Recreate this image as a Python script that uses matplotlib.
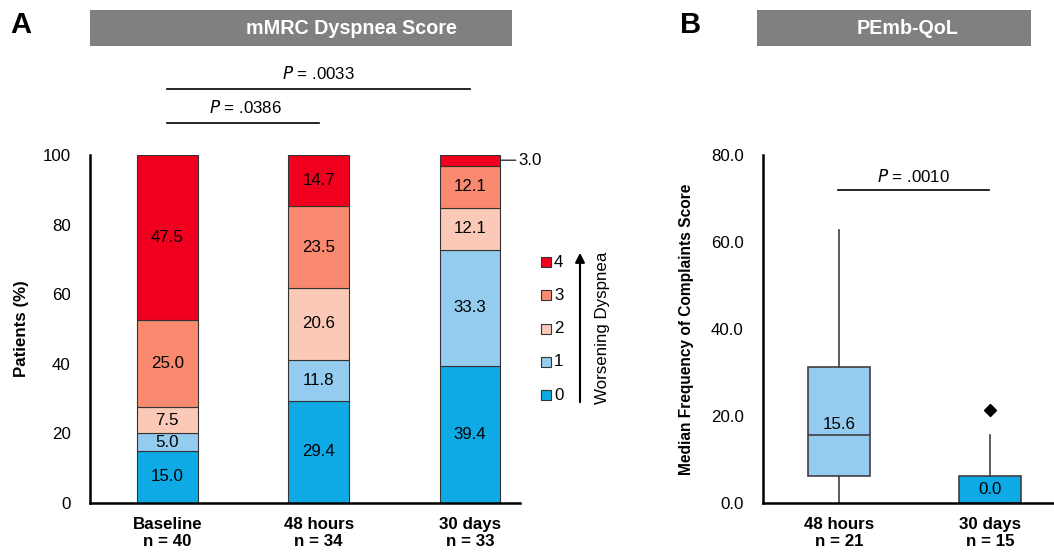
import numpy as np
import matplotlib
matplotlib.use('Agg')
import matplotlib.pyplot as plt
from matplotlib.patches import Rectangle

plt.rcParams['font.family'] = ['Liberation Sans', 'DejaVu Sans']

# Datos panel A
grupos = ['Baseline\nn = 40', '48 hours\nn = 34', '30 days\nn = 33']
niveles = ['0', '1', '2', '3', '4']
colores = ['#0eaae6', '#94ccf0', '#fbc9b7', '#f98a70', '#f0001e']
score_0 = [15.0, 29.4, 39.4]
score_1 = [5.0, 11.8, 33.3]
score_2 = [7.5, 20.6, 12.1]
score_3 = [25.0, 23.5, 12.1]
score_4 = [47.5, 14.7, 3.0]

# Datos panel B
grupos_b = ['48 hours\nn = 21', '30 days\nn = 15']
medianas = [15.6, 0.0]
q1 = [6.2, 0.0]
q3 = [31.3, 6.2]
bigote_inf = [0.0, 0.0]
bigote_sup = [62.8, 15.6]
atipicos = [[], [21.4]]
colores_b = ['#94ccf0', '#0eaae6']

W, H = 1054, 554
FS = 12.2
fig = plt.figure(figsize=(W / 100, H / 100), dpi=100)


def caja(x0, y0, x1, y1):
    # convierte pixeles (desde arriba) a fraccion de figura
    return [x0 / W, 1 - y1 / H, (x1 - x0) / W, (y1 - y0) / H]


# Panel A
ax = fig.add_axes(caja(90, 155, 520, 503))
series = [score_0, score_1, score_2, score_3, score_4]
x = np.arange(len(grupos))
base = np.zeros(len(grupos))
for i, vals in enumerate(series):
    vals = np.array(vals)
    ax.bar(x, vals, 0.40, bottom=base, color=colores[i],
           edgecolor='#333333', linewidth=0.8, label=niveles[i], zorder=2)
    for j, v in enumerate(vals):
        if v >= 5:
            ax.text(x[j], base[j] + v / 2, f'{v:.1f}', ha='center',
                    va='center', fontsize=FS, color='black')
    base += vals

# etiqueta 3.0 fuera de la barra
ax.annotate('3.0', xy=(2 + 0.20, 100 - score_4[2] / 2),
            xytext=(2.32, 100 - score_4[2] / 2), ha='left', va='center',
            fontsize=FS, annotation_clip=False,
            arrowprops=dict(arrowstyle='-', color='#333333', lw=1,
                            shrinkA=0, shrinkB=0))

ax.set_xlim(-0.51, 2.33)
ax.set_ylim(0, 100)
ax.set_yticks(np.arange(0, 101, 20))
ax.set_xticks(x)
ax.set_xticklabels(grupos, fontweight='bold', fontsize=FS)
ax.tick_params(axis='both', length=0, labelsize=FS)
ax.tick_params(axis='y', pad=14)
ax.tick_params(axis='x', pad=10)
for s in ['top', 'right']:
    ax.spines[s].set_visible(False)
for s in ['left', 'bottom']:
    ax.spines[s].set_linewidth(1.8)
    ax.spines[s].set_color('black')
ax.set_ylabel('Patients (%)', fontweight='bold', fontsize=FS, labelpad=10)

# leyenda manual
for i, nv in enumerate(niveles):
    yp = 395 - i * 33.2
    fig.add_artist(Rectangle(((541) / W, 1 - (yp + 5) / H), 10 / W, 10 / H,
                             facecolor=colores[i], edgecolor='#333333',
                             linewidth=0.8))
    fig.text(554 / W, 1 - yp / H, nv, ha='left', va='center', fontsize=FS)
fig.add_artist(matplotlib.patches.FancyArrowPatch(
    (580 / W, 1 - 405 / H), (580 / W, 1 - 250 / H),
    transform=fig.transFigure, arrowstyle='-|>', mutation_scale=14,
    color='black', lw=1.5))
fig.text(603 / W, 1 - 328 / H, 'Worsening Dyspnea', rotation=90,
         ha='center', va='center', fontsize=FS)

# lineas de P panel A
ax.plot([0, 2], [119.0, 119.0], color='black', lw=1.2, clip_on=False)
ax.text(1, 121.0, '$\\it{P}$ = .0033', ha='center', va='bottom', fontsize=FS)
ax.plot([0, 1], [109.2, 109.2], color='black', lw=1.2, clip_on=False)
ax.text(0.52, 111.2, '$\\it{P}$ = .0386', ha='center', va='bottom', fontsize=FS)

# Panel B
axb = fig.add_axes(caja(763, 155, 1054, 503))
stats = []
for i in range(len(grupos_b)):
    stats.append(dict(med=medianas[i], q1=q1[i], q3=q3[i],
                      whislo=bigote_inf[i], whishi=bigote_sup[i],
                      fliers=atipicos[i]))
bp = axb.bxp(stats, positions=[0, 1], widths=0.41, patch_artist=True,
             showcaps=False,
             boxprops=dict(edgecolor='#404040', linewidth=1.2),
             medianprops=dict(color='#404040', linewidth=1.2),
             whiskerprops=dict(color='#404040', linewidth=1.2),
             flierprops=dict(marker='D', markerfacecolor='black',
                             markeredgecolor='black', markersize=6))
for p, c in zip(bp['boxes'], colores_b):
    p.set_facecolor(c)
axb.text(0, medianas[0] + 0.8, f'{medianas[0]:.1f}', ha='center', va='bottom',
         fontsize=FS)
axb.text(1, 3.1, f'{medianas[1]:.1f}', ha='center', va='center', fontsize=FS)

axb.set_xlim(-0.503, 1.42)
axb.set_ylim(0, 80)
axb.set_yticks(np.arange(0, 81, 20))
axb.set_yticklabels([f'{v:.1f}' for v in np.arange(0, 81, 20)])
axb.set_xticks([0, 1])
axb.set_xticklabels(grupos_b, fontweight='bold', fontsize=FS)
axb.tick_params(axis='both', length=0, labelsize=FS)
axb.tick_params(axis='y', pad=14)
axb.tick_params(axis='x', pad=10)
for s in ['top', 'right']:
    axb.spines[s].set_visible(False)
for s in ['left', 'bottom']:
    axb.spines[s].set_linewidth(1.8)
axb.set_ylabel('Median Frequency of Complaints Score', fontweight='bold',
               fontsize=11.2, labelpad=12)
axb.plot([-0.01, 0.99], [71.9, 71.9], color='black', lw=1.2, clip_on=False)
axb.text(0.49, 73.0, '$\\it{P}$ = .0010', ha='center', va='bottom', fontsize=FS)

# titulos en banda gris
fig.add_artist(Rectangle((90 / W, 1 - 46 / H), 422 / W, 36 / H,
                         facecolor='#808080', edgecolor='none'))
fig.text(351 / W, 1 - 29 / H, 'mMRC Dyspnea Score', color='white',
         fontweight='bold', fontsize=14.2, ha='center', va='center')
fig.add_artist(Rectangle((757 / W, 1 - 46 / H), 274 / W, 36 / H,
                         facecolor='#808080', edgecolor='none'))
fig.text(908 / W, 1 - 29 / H, 'PEmb-QoL', color='white',
         fontweight='bold', fontsize=14.2, ha='center', va='center')

fig.text(10 / W, 1 - 25 / H, 'A', fontweight='bold', fontsize=21,
         ha='left', va='center')
fig.text(680 / W, 1 - 25 / H, 'B', fontweight='bold', fontsize=21,
         ha='left', va='center')

fig.savefig('out.png', dpi=100)
